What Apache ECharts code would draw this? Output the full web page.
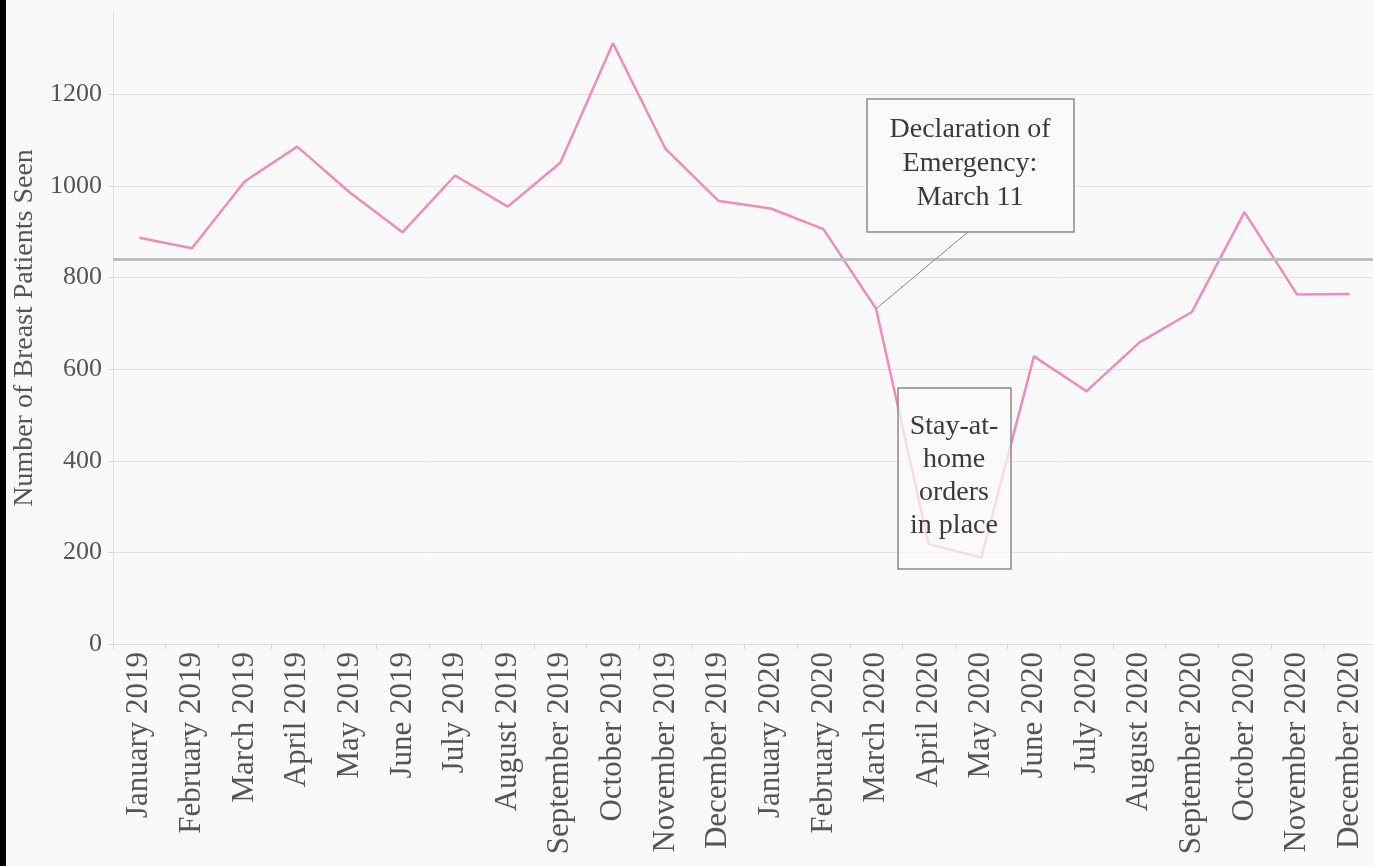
<!DOCTYPE html>
<html>
<head>
<meta charset="utf-8">
<script src="https://cdn.jsdelivr.net/npm/echarts@6/dist/echarts.min.js"></script>
<style>
html,body{margin:0;padding:0;background:#f9f9f9;}
#chart{width:1373px;height:866px;}
</style>
</head>
<body>
<div id="chart"></div>
<script>
const months = ['January 2019','February 2019','March 2019','April 2019','May 2019','June 2019','July 2019','August 2019','September 2019','October 2019','November 2019','December 2019','January 2020','February 2020','March 2020','April 2020','May 2020','June 2020','July 2020','August 2020','September 2020','October 2020','November 2020','December 2020'];
const patientsSeen = [887,864,1010,1086,986,899,1023,955,1051,1312,1081,968,951,906,732,218,189,628,552,658,725,943,763,764];
const yTicks = [0,200,400,600,800,1000,1200];
const yAxisTitle = 'Number of Breast Patients Seen';
const emergencyText = 'Declaration of\nEmergency:\nMarch 11';
const emergencyMonth = 'March 2020';
const stayHomeText = 'Stay-at-\nhome\norders\nin place';

const FONT = '"Liberation Serif", "Times New Roman", serif';
const chart = echarts.init(document.getElementById('chart'));
const emergencyIdx = months.indexOf(emergencyMonth);

chart.setOption({
  backgroundColor: '#f9f9f9',
  animation: false,
  grid: {left: 113, right: -3, top: 12, bottom: 222, containLabel: false, outerBoundsMode: 'none'},
  xAxis: {
    type: 'category',
    data: months,
    boundaryGap: true,
    axisLine: {show: true, lineStyle: {color: '#dedede', width: 1}},
    axisTick: {show: true, alignWithLabel: false, length: 5, lineStyle: {color: '#d6d6d6'}},
    axisLabel: {rotate: 90, interval: 0, margin: 8, fontFamily: FONT, fontSize: 31, color: '#555'},
    splitLine: {show: false}
  },
  yAxis: {
    type: 'value',
    min: yTicks[0],
    max: 1380,
    interval: 200,
    name: yAxisTitle,
    nameLocation: 'middle',
    nameGap: 70,
    nameRotate: 90,
    nameTextStyle: {fontFamily: FONT, fontSize: 28, color: '#555'},
    axisLine: {show: true, lineStyle: {color: '#dedede', width: 1}},
    axisTick: {show: true, length: 5, customValues: yTicks, lineStyle: {color: '#d6d6d6'}},
    axisLabel: {
      margin: 11, fontFamily: FONT, fontSize: 26, color: '#555',
      customValues: yTicks,
      formatter: v => yTicks.indexOf(v) >= 0 ? String(v) : ''
    },
    splitLine: {show: true, lineStyle: {color: ['#e2e2e2','#e2e2e2','#e2e2e2','#e2e2e2','#e2e2e2','#e2e2e2','#e2e2e2','rgba(0,0,0,0)'], width: 1}}
  },
  series: [{
    type: 'line',
    data: patientsSeen,
    symbol: 'none',
    smooth: false,
    lineStyle: {color: '#f08cba', width: 2.5},
    z: 3,
    markLine: {
      silent: true,
      symbol: 'none',
      label: {show: false},
      data: [
        {type: 'average', lineStyle: {color: '#bdbdbd', width: 3, type: 'solid'}},
        [
          {coord: [emergencyIdx, patientsSeen[emergencyIdx]], lineStyle: {color: '#888', width: 1, type: 'solid'}},
          {x: 968, y: 232}
        ]
      ]
    }
  }],
  graphic: [
    {type: 'rect', shape: {x: 0, y: 0, width: 6, height: 866}, style: {fill: '#000'}, z: 200},
    {type: 'rect', shape: {x: 867, y: 99, width: 207, height: 133}, style: {fill: 'rgba(250,250,250,0.95)', stroke: '#8a8a8a', lineWidth: 1.5}, z: 100},
    {type: 'text', style: {x: 970, y: 113, text: emergencyText, font: '28px ' + FONT, fill: '#3a3a3a', align: 'center', verticalAlign: 'top', lineHeight: 34}, z: 101},
    {type: 'rect', shape: {x: 898, y: 388, width: 113, height: 181}, style: {fill: 'rgba(250,250,250,0.72)', stroke: '#8a8a8a', lineWidth: 1.5}, z: 100},
    {type: 'text', style: {x: 954, y: 410, text: stayHomeText, font: '28px ' + FONT, fill: '#3a3a3a', align: 'center', verticalAlign: 'top', lineHeight: 33}, z: 101}
  ]
});
</script>
</body>
</html>
